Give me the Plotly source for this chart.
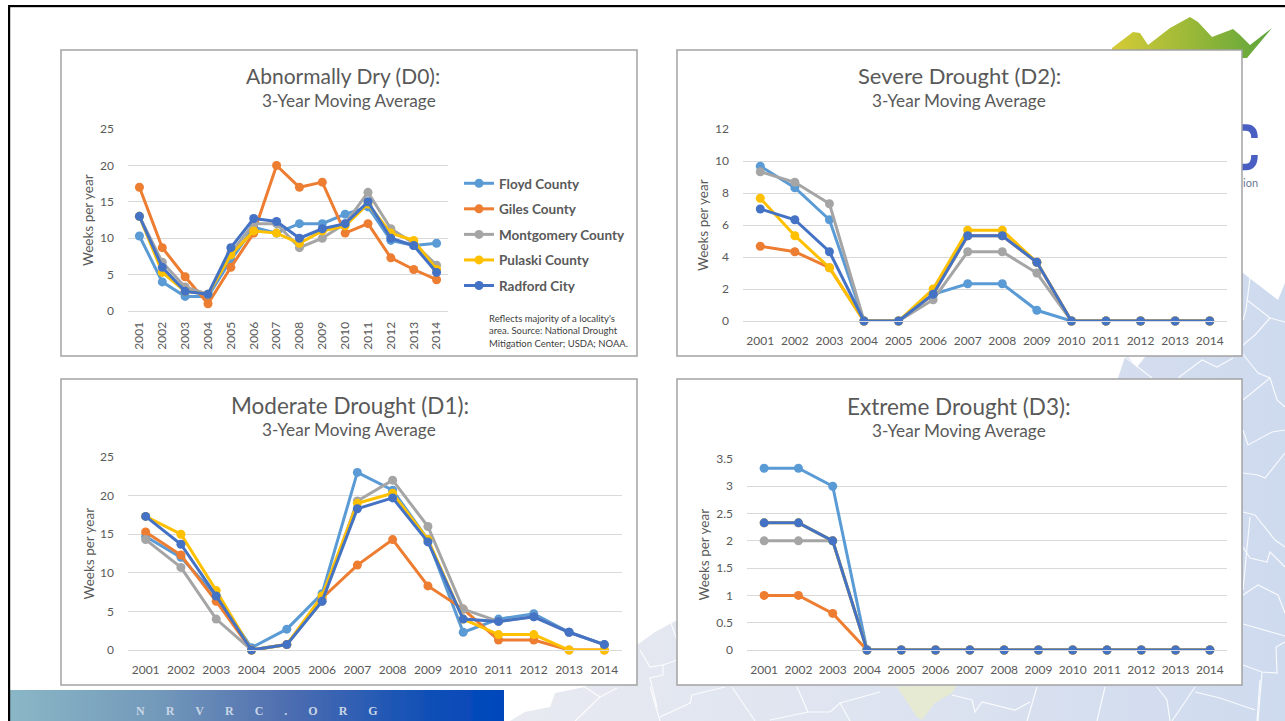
import base64
import plotly.graph_objects as go

W, H = 1285, 721

years = [str(y) for y in range(2001, 2015)]
names = ['Floyd County', 'Giles County', 'Montgomery County', 'Pulaski County', 'Radford City']
colors = ['#5B9BD5', '#ED7D31', '#A5A5A5', '#FFC000', '#4472C4']

# weeks per year, 3-year moving average
d0_floyd = [10.3, 4, 2, 2, 7, 11.5, 10.7, 12, 12, 13.3, 14.3, 9.7, 9, 9.3]
d0_giles = [17, 8.7, 4.7, 1, 6, 10.7, 20, 17, 17.7, 10.7, 12, 7.3, 5.7, 4.3]
d0_montgomery = [13, 6.7, 3.3, 2.3, 8, 12, 12, 8.7, 10, 12, 16.3, 11.3, 9.3, 6.3]
d0_pulaski = [13, 5.3, 2.7, 2.3, 7.7, 11, 10.7, 9.3, 11, 11.7, 14.7, 10.7, 9.7, 5.7]
d0_radford = [13, 6, 2.7, 2.3, 8.7, 12.7, 12.3, 10, 11.3, 12, 15, 10, 9, 5.3]

d1_floyd = [14.7, 12, 7, 0.3, 2.7, 7.3, 23, 20.7, 14.3, 2.3, 4, 4.7, 2.3, 0.7]
d1_giles = [15.3, 12.3, 6.3, 0, 0.7, 6.7, 11, 14.3, 8.3, 5.3, 1.3, 1.3, 0, 0]
d1_montgomery = [14.3, 10.7, 4, 0, 0.7, 6.3, 19.3, 22, 16, 5.3, 3.7, 4.3, 2.3, 0.7]
d1_pulaski = [17.3, 15, 7.7, 0, 0.7, 7, 19, 20.3, 14.3, 4, 2, 2, 0, 0]
d1_radford = [17.3, 13.7, 7, 0, 0.7, 6.3, 18.3, 19.7, 14, 4, 3.7, 4.3, 2.3, 0.7]

d2_floyd = [9.67, 8.33, 6.33, 0, 0, 1.67, 2.33, 2.33, 0.67, 0, 0, 0, 0, 0]
d2_giles = [4.67, 4.33, 3.33, 0, 0, 1.67, 5.33, 5.33, 3.67, 0, 0, 0, 0, 0]
d2_montgomery = [9.33, 8.67, 7.33, 0, 0, 1.33, 4.33, 4.33, 3, 0, 0, 0, 0, 0]
d2_pulaski = [7.67, 5.33, 3.33, 0, 0, 2, 5.67, 5.67, 3.67, 0, 0, 0, 0, 0]
d2_radford = [7, 6.33, 4.33, 0, 0, 1.67, 5.33, 5.33, 3.67, 0, 0, 0, 0, 0]

d3_floyd = [3.33, 3.33, 3, 0, 0, 0, 0, 0, 0, 0, 0, 0, 0, 0]
d3_giles = [1, 1, 0.67, 0, 0, 0, 0, 0, 0, 0, 0, 0, 0, 0]
d3_montgomery = [2, 2, 2, 0, 0, 0, 0, 0, 0, 0, 0, 0, 0, 0]
d3_pulaski = [2.33, 2.33, 2, 0, 0, 0, 0, 0, 0, 0, 0, 0, 0, 0]
d3_radford = [2.33, 2.33, 2, 0, 0, 0, 0, 0, 0, 0, 0, 0, 0, 0]

# panel box, plot box, axis range, dtick, title and where it sits
panels = [
    dict(title='Abnormally Dry (D0):', box=(61, 50, 637, 356), plot=(128, 129, 448, 311), ymax=25, dtick=5,
         cx=343, tsize=21, sub_cx=349, ty=76, axis_x=88, angle=-90, x_standoff=5,
         series=[d0_floyd, d0_giles, d0_montgomery, d0_pulaski, d0_radford]),
    dict(title='Severe Drought (D2):', box=(677, 50, 1242, 356), plot=(743, 129, 1227, 321), ymax=12, dtick=2,
         cx=959, tsize=22, sub_cx=959, ty=76, axis_x=703, angle=0, x_standoff=9,
         series=[d2_floyd, d2_giles, d2_montgomery, d2_pulaski, d2_radford]),
    dict(title='Moderate Drought (D1):', box=(61, 379, 637, 685), plot=(128, 457, 622, 650), ymax=25, dtick=5,
         cx=350, tsize=22.5, sub_cx=349, ty=405, axis_x=88, angle=0, x_standoff=9,
         series=[d1_floyd, d1_giles, d1_montgomery, d1_pulaski, d1_radford]),
    dict(title='Extreme Drought (D3):', box=(677, 379, 1242, 685), plot=(747, 459, 1227, 650), ymax=3.5, dtick=0.5,
         cx=959, tsize=22.5, sub_cx=959, ty=406, axis_x=703, angle=0, x_standoff=9,
         series=[d3_floyd, d3_giles, d3_montgomery, d3_pulaski, d3_radford]),
]

# slide background: county map, hills, logo scrap, footer band
county_lines = [
    '1242,353 1258,373 1270,378 1277,400 1285,407', '1243,400 1270,378',
    '1243,430 1248,445 1272,432 1285,430', '1243,473 1258,475 1265,478 1285,453',
    '1243,512 1255,515 1275,540 1285,547', '1250,517 1243,590',
    '1243,547 1250,558 1267,562 1270,552 1285,567', '1243,595 1258,585 1278,595 1285,613',
    '1243,624 1285,636', '1276,647 1277,673 1262,672 1243,665', '1276,647 1285,642',
    '1262,672 1258,721', '1250,278 1246,310 1243,320', '1247,300 1270,318 1285,322',
    '1255,335 1270,318', '1255,335 1243,345', '1178,378 1202,360 1217,367 1233,358',
    '1125,357 1152,378', '585,687 600,697 575,721', '617,688 600,697', '650,687 660,721',
    '660,717 690,703 692,695 725,687', '732,687 755,721', '797,687 808,712',
    '770,720 808,712 830,712 840,703 880,692', '840,703 850,721',
    '952,695 972,700 975,712 982,702 1015,710 1030,702', '1037,687 1027,721',
    '1105,687 1097,721', '1157,687 1167,700 1170,721', '1195,687 1172,721',
    '1195,692 1220,698 1255,710', '1260,680 1257,721', '640,650 650,667 663,665 663,675 650,678 657,707',
    '668,615 677,640', '677,660 663,665',
]
lines_svg = ''.join(f'<polyline points="{p}"/>' for p in county_lines)
bg_svg = f'''<svg xmlns="http://www.w3.org/2000/svg" width="{W}" height="{H}" viewBox="0 0 {W} {H}">
<defs>
<linearGradient id="m" x1="505" x2="1285" y1="0" y2="0" gradientUnits="userSpaceOnUse">
<stop offset="0" stop-color="#E8EAF1"/><stop offset="0.5" stop-color="#DDE3F0"/><stop offset="1" stop-color="#CEDAEE"/></linearGradient>
<linearGradient id="h" x1="1112" x2="1272" y1="0" y2="0" gradientUnits="userSpaceOnUse">
<stop offset="0" stop-color="#D6CB36"/><stop offset="1" stop-color="#5CA53B"/></linearGradient>
<linearGradient id="b" x1="10" x2="504" y1="0" y2="0" gradientUnits="userSpaceOnUse">
<stop offset="0" stop-color="#8AB7C6"/><stop offset="0.3" stop-color="#7399BA"/><stop offset="0.55" stop-color="#506FB0"/><stop offset="0.85" stop-color="#0F4FB6"/><stop offset="1" stop-color="#0046BC"/></linearGradient>
<filter id="s"><feGaussianBlur stdDeviation="0.6"/></filter>
</defs>
<rect width="{W}" height="{H}" fill="#FFFFFF"/>
<g filter="url(#s)">
<polygon fill="url(#m)" points="510,721 525,712 550,707 555,693 585,687 637,645 655,632 677,620 900,600 1118,378 1125,357 1128,357 1137,367 1145,357 1243,273 1278,300 1285,283 1285,721"/>
<polygon fill="#E6EAD2" points="877,687 897,687 917,717 922,720 935,703 952,693 957,685"/>
<g fill="none" stroke="#FFFFFF" stroke-width="1.2" stroke-opacity="0.85">{lines_svg}</g>
<polygon fill="url(#h)" points="1112,48 1133,32 1140,33 1148,45 1170,28 1190,17 1198,22 1212,37 1233,29 1240,35 1250,45 1272,28 1247,58 1112,60"/>
<g fill="none" stroke="#4A5FC1" stroke-width="6.5"><path d="M1240,127.5 L1246,127.5 Q1254.5,127.5 1254.5,138"/><path d="M1240,167 L1246,167 Q1254.5,167 1254.5,155"/></g>
<rect x="10" y="690" width="494" height="31" fill="url(#b)"/>
</g>
<rect x="8" y="5" width="{W - 8}" height="2.2" fill="#000000"/>
<rect x="8" y="5" width="2.2" height="{H - 5}" fill="#000000"/>
</svg>'''
bg_uri = 'data:image/svg+xml;base64,' + base64.b64encode(bg_svg.encode()).decode()

FONT = 'Lato'
GREY = '#595959'


def px(x):
    return x / W


def py(y):
    return 1 - y / H


def text(x, y, s, size, color=GREY, xanchor='center', yanchor='middle', angle=0, family=FONT, align='center'):
    fig.add_annotation(xref='paper', yref='paper', x=px(x), y=py(y), text=s, showarrow=False,
                       xanchor=xanchor, yanchor=yanchor, textangle=angle, align=align,
                       font=dict(family=family, size=size, color=color))


fig = go.Figure()

for i, p in enumerate(panels):
    n = '' if i == 0 else str(i + 1)
    x0, y0, x1, y1 = p['plot']
    for name, color, values in zip(names, colors, p['series']):
        fig.add_trace(go.Scatter(x=years, y=values, name=name, mode='lines+markers',
                                 xaxis='x' + n, yaxis='y' + n, cliponaxis=False,
                                 line=dict(color=color, width=3), marker=dict(color=color, size=9),
                                 showlegend=i == 0, legendgroup=name))
    fig.layout['xaxis' + n] = dict(domain=[px(x0), px(x1)], anchor='y' + n, type='category',
                                   range=[-0.5, 13.5], showgrid=False, showline=True, linecolor='#D9D9D9',
                                   linewidth=1, ticks='', tickangle=p['angle'], automargin=False,
                                   ticklabelstandoff=p['x_standoff'],
                                   tickfont=dict(family=FONT, size=12, color=GREY))
    fig.layout['yaxis' + n] = dict(domain=[py(y1), py(y0)], anchor='x' + n, range=[0, p['ymax']],
                                   dtick=p['dtick'], showgrid=True, gridcolor='#D9D9D9', gridwidth=1,
                                   zeroline=False, ticks='', automargin=False, ticklabelstandoff=13,
                                   tickfont=dict(family=FONT, size=12, color=GREY))
    bx0, by0, bx1, by1 = p['box']
    fig.add_shape(type='rect', xref='paper', yref='paper', layer='below', x0=px(bx0), x1=px(bx1),
                  y0=py(by1), y1=py(by0), fillcolor='#FFFFFF', line=dict(color='#A3A3A3', width=1.5))

fig.update_layout(
    width=W, height=H, margin=dict(l=0, r=0, t=0, b=0, autoexpand=False), autosize=False,
    paper_bgcolor='#FFFFFF', plot_bgcolor='rgba(0,0,0,0)',
    images=[dict(source=bg_uri, xref='paper', yref='paper', x=0, y=1, sizex=1, sizey=1,
                 sizing='stretch', xanchor='left', yanchor='top', layer='below')],
    legend=dict(x=px(459), y=py(168), xanchor='left', yanchor='top', tracegroupgap=5, itemwidth=30,
                bgcolor='rgba(0,0,0,0)', font=dict(family=FONT, size=13.5, color=GREY, weight='bold')),
)

for p in panels:
    text(p['cx'], p['ty'], p['title'], p['tsize'])
    text(p['sub_cx'], p['ty'] + 25, '3-Year Moving Average', 17.2)
    text(p['axis_x'], (p['plot'][1] + p['plot'][3]) / 2, 'Weeks per year', 13.5, angle=-90)

text(487, 331, "Reflects majority of a locality's<br>area. Source: National Drought<br>Mitigation Center; USDA; NOAA.",
     9.5, color='#404040', xanchor='left', align='left')
text(1241, 182, 'ion', 11, color='#6B7A9A', xanchor='left')
nb = '\u00a0' * 7
text(257, 711, '<b>' + nb.join('NRVRC.ORG') + '</b>', 12, color='#C9D6E6', family='Liberation Serif')

fig.write_html('out.html', config={'displayModeBar': False},
               post_script="document.body.style.margin='0';document.body.style.overflow='hidden';")
